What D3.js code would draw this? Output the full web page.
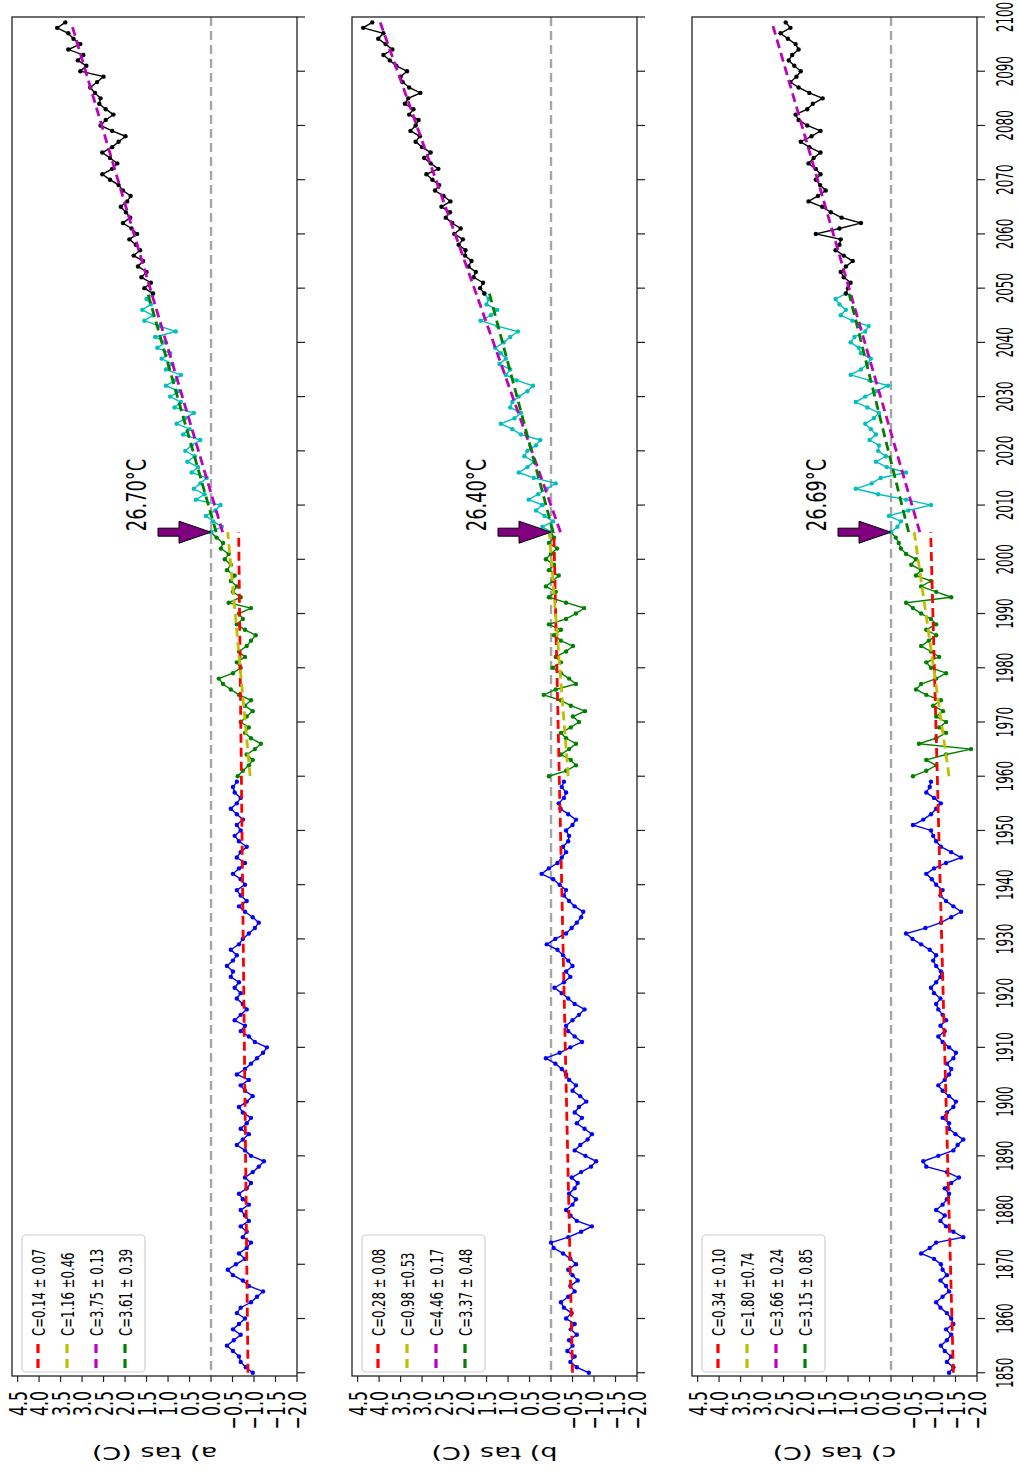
<!DOCTYPE html>
<html>
<head>
<meta charset="utf-8">
<script src="https://cdn.jsdelivr.net/npm/d3@7"></script>
<style>
  body { margin: 0; background: #fff; }
  svg { display: block; }
</style>
</head>
<body>
<svg id="fig" width="1018" height="1471"></svg>
<script>
// ---- Segment start years (each series runs yearly from its start) ----
const HIST_START = 1850;   // blue
const OBS_START = 1960;    // green
const NEAR_START = 2005;   // cyan
const LATE_START = 2049;   // black

// ---- Panel a: tas anomaly (C) ----
const histA = [
  -0.97,-0.81,-0.69,-0.65,-0.51,-0.37,-0.53,-0.69,-0.51,-0.65,
  -0.79,-0.60,-0.69,-0.93,-1.07,-1.21,-0.88,-0.74,-0.51,-0.39,
  -0.58,-0.79,-0.65,-0.83,-0.93,-0.74,-0.83,-0.69,-0.88,-0.79,
  -0.69,-0.88,-0.74,-0.65,-0.83,-0.93,-0.79,-0.97,-1.11,-1.23,
  -0.93,-0.79,-0.60,-0.74,-0.88,-0.69,-0.83,-0.93,-0.74,-0.65,
  -0.83,-0.97,-0.79,-0.69,-0.88,-0.60,-0.79,-0.93,-1.07,-1.21,
  -1.30,-1.02,-0.88,-0.69,-0.79,-0.55,-0.69,-0.83,-0.74,-0.60,
  -0.69,-0.55,-0.65,-0.46,-0.51,-0.37,-0.51,-0.60,-0.46,-0.65,
  -0.74,-0.88,-1.02,-1.11,-0.97,-0.79,-0.65,-0.83,-0.69,-0.60,
  -0.79,-0.69,-0.51,-0.65,-0.79,-0.60,-0.69,-0.83,-0.65,-0.55,
  -0.69,-0.60,-0.74,-0.60,-0.46,-0.60,-0.69,-0.55,-0.51,-0.60
];
const obsA = [
  -0.62,-0.74,-0.88,-0.97,-0.83,-1.02,-1.16,-0.93,-0.79,-0.88,
  -0.69,-0.83,-0.97,-0.79,-0.93,-0.65,-0.46,-0.28,-0.18,-0.51,
  -0.69,-0.60,-0.79,-0.65,-0.83,-0.93,-1.04,-0.79,-0.60,-0.74,
  -0.65,-0.93,-0.41,-0.69,-0.51,-0.60,-0.46,-0.55,-0.37,-0.46,
  -0.32,-0.41,-0.23,-0.28,-0.13,0.00
];
const nearA = [
  0.00,-0.25,-0.05,0.12,-0.10,-0.22,0.35,0.15,0.40,0.25,
  0.10,0.45,0.30,0.55,0.38,0.60,0.45,0.25,0.65,0.50,
  0.80,0.60,0.40,0.85,0.70,0.95,0.75,1.05,0.85,0.70,
  1.05,0.90,1.15,0.95,1.25,1.05,1.30,0.82,1.20,1.55,
  1.35,1.60,1.40,1.50,1.35
];
const lateA = [
  1.35,1.55,1.40,1.62,1.50,1.70,1.58,1.80,1.65,1.75,
  1.90,1.72,1.85,2.05,1.88,1.98,2.10,1.95,1.87,2.05,
  2.15,2.35,2.53,2.30,2.18,2.35,2.53,2.30,2.15,1.99,
  2.30,2.57,2.45,2.27,2.45,2.60,2.57,2.70,2.81,2.65,
  2.50,3.04,2.90,3.10,2.97,3.32,3.04,3.20,3.32,3.58,
  3.39
];

// ---- Panel b ----
const histB = [
  -0.88,-0.60,-0.45,-0.55,-0.38,-0.50,-0.42,-0.60,-0.46,-0.55,
  -0.35,-0.48,-0.30,-0.23,-0.40,-0.55,-0.45,-0.62,-0.50,-0.40,
  -0.58,-0.45,-0.28,-0.06,0.00,-0.40,-0.70,-0.95,-0.60,-0.45,
  -0.35,-0.50,-0.58,-0.42,-0.55,-0.62,-0.48,-0.70,-0.93,-1.05,
  -0.80,-0.55,-0.68,-0.85,-0.95,-0.78,-0.60,-0.72,-0.55,-0.65,
  -0.82,-0.68,-0.50,-0.58,-0.42,-0.35,-0.25,-0.10,0.12,-0.20,
  -0.45,-0.72,-0.55,-0.40,-0.35,-0.50,-0.65,-0.78,-0.55,-0.40,
  -0.25,-0.08,-0.30,-0.45,-0.35,-0.50,-0.40,-0.28,-0.15,0.10,
  -0.10,-0.35,-0.48,-0.60,-0.70,-0.75,-0.55,-0.42,-0.30,-0.35,
  -0.20,-0.05,0.22,0.05,-0.15,-0.25,-0.35,-0.28,-0.40,-0.42,
  -0.35,-0.50,-0.58,-0.40,-0.22,-0.18,-0.30,-0.35,-0.25,-0.30
];
const obsB = [
  0.05,-0.35,-0.58,-0.46,-0.23,-0.42,-0.58,-0.35,-0.23,-0.46,
  -0.65,-0.51,-0.79,-0.46,-0.23,0.17,-0.11,-0.58,-0.42,-0.23,
  -0.04,-0.23,-0.11,-0.35,-0.51,-0.23,-0.07,-0.23,0.05,-0.35,
  -0.58,-0.77,-0.35,0.05,-0.11,0.12,-0.04,-0.18,0.05,-0.07,
  0.12,0.00,-0.14,0.05,-0.07,0.00
];
const nearB = [
  0.00,0.20,-0.05,0.15,0.35,0.20,0.52,0.30,0.10,-0.11,
  0.40,0.75,0.55,0.40,0.62,0.55,0.35,0.25,0.70,0.90,
  1.17,0.85,0.70,0.95,0.90,0.75,0.55,0.42,0.80,1.05,
  0.95,1.20,1.05,1.17,1.30,1.10,0.95,0.77,1.25,1.64,
  1.40,1.25,1.50,1.45,1.55
];
const lateB = [
  1.55,1.65,1.58,1.80,1.75,1.92,1.85,2.00,1.99,2.15,
  2.05,2.25,2.10,2.30,2.45,2.35,2.55,2.34,2.50,2.70,
  2.60,2.76,2.90,2.62,2.80,2.95,2.80,3.00,3.15,3.05,
  3.27,3.15,3.08,3.30,3.20,3.40,3.32,3.04,3.30,3.45,
  3.50,3.35,3.60,3.75,3.90,3.69,3.85,4.02,3.90,4.37,
  4.16
];

// ---- Panel c ----
const histC = [
  -1.35,-1.45,-1.30,-1.40,-1.25,-1.16,-1.30,-1.40,-1.28,-1.45,
  -1.40,-1.30,-1.15,-1.05,-1.20,-1.35,-1.28,-1.15,-1.30,-1.20,
  -1.16,-1.00,-0.70,-0.90,-1.05,-1.68,-1.45,-1.28,-1.15,-1.25,
  -1.05,-1.20,-1.30,-1.35,-1.25,-1.40,-1.58,-1.30,-0.82,-0.75,
  -1.10,-1.45,-1.55,-1.68,-1.50,-1.35,-1.35,-1.20,-1.30,-1.45,
  -1.51,-1.35,-1.20,-1.10,-1.25,-1.35,-1.40,-1.30,-1.45,-1.51,
  -1.35,-1.20,-1.10,-1.25,-1.15,-1.28,-1.20,-1.10,-1.05,-1.15,
  -1.00,-0.93,-1.05,-1.15,-1.16,-1.05,-0.98,-1.05,-0.90,-0.70,
  -0.50,-0.35,-0.80,-1.16,-1.40,-1.63,-1.45,-1.28,-1.15,-1.20,
  -1.05,-0.95,-0.82,-1.00,-1.28,-1.63,-1.40,-1.16,-1.05,-0.98,
  -0.93,-0.51,-0.75,-0.93,-1.05,-1.16,-1.00,-0.82,-0.90,-0.93
];
const obsC = [
  -0.51,-0.82,-1.05,-0.82,-1.28,-1.86,-0.65,-1.05,-1.28,-1.12,
  -1.28,-1.05,-1.21,-0.98,-1.16,-0.82,-0.58,-0.70,-1.05,-1.28,
  -0.93,-0.82,-1.12,-0.93,-0.70,-0.88,-1.05,-0.82,-1.05,-0.93,
  -0.70,-0.51,-0.35,-1.40,-1.05,-0.70,-0.93,-0.58,-0.70,-0.47,
  -0.58,-0.35,-0.23,-0.18,-0.11,0.00
];
const nearC = [
  0.00,-0.15,-0.23,0.05,-0.40,-0.93,-0.35,0.30,0.82,0.45,
  0.24,-0.35,0.10,0.35,0.12,0.30,0.28,0.50,0.35,0.47,
  0.60,0.40,0.28,0.55,0.82,0.60,0.35,0.07,0.50,0.94,
  0.70,0.55,0.47,0.70,0.75,0.94,0.85,0.60,0.52,0.90,
  1.17,1.05,1.20,1.29,1.05
];
const lateC = [
  1.05,1.00,0.94,1.10,1.17,1.05,0.89,1.10,1.29,1.20,
  1.17,1.75,1.20,0.70,1.15,1.40,1.60,1.92,1.70,1.52,
  1.65,1.75,1.64,1.75,1.92,1.80,1.64,1.90,2.10,1.85,
  1.64,1.95,2.15,2.22,1.95,1.82,1.59,1.90,2.15,2.34,
  2.20,2.10,2.25,2.38,2.30,2.15,2.22,2.40,2.57,2.34,
  2.45
];

// ---- Linear trends: periods, slopes (C per century), errors, starting values ----
const trendStart = [1850, 1960, 2005, 2005];
const trendEnd   = [2005, 2005, 2099, 2049];
const trendColors = ["#ff0000", "#bfbf00", "#bf00bf", "#008000"];
const trendC_A = [0.14, 1.16, 3.75, 3.61];
const trendE_A = [0.07, 0.46, 0.13, 0.39];
const trendV0_A = [-0.86, -0.91, -0.27, -0.12];
const trendC_B = [0.28, 0.98, 4.46, 3.37];
const trendE_B = [0.08, 0.53, 0.17, 0.48];
const trendV0_B = [-0.50, -0.40, -0.22, -0.05];
const trendC_C = [0.34, 1.80, 3.66, 3.15];
const trendE_C = [0.10, 0.74, 0.24, 0.85];
const trendV0_C = [-1.45, -1.35, -0.67, -0.41];

// ---- Labels ----
const panelLabels = ["a) tas (C)", "b) tas (C)", "c) tas (C)"];
const refTemps = ["26.70°C", "26.40°C", "26.69°C"];
const valueTicks = d3.range(-4, 10).map(k => k * 0.5);   // -2.0 … 4.5
const yearTicks = d3.range(1850, 2101, 10);

const panels = [
  { hist: histA, obs: obsA, near: nearA, late: lateA, C: trendC_A, E: trendE_A, V0: trendV0_A },
  { hist: histB, obs: obsB, near: nearB, late: lateB, C: trendC_B, E: trendE_B, V0: trendV0_B },
  { hist: histC, obs: obsC, near: nearC, late: lateC, C: trendC_C, E: trendE_C, V0: trendV0_C }
];

// ---- Layout (time runs bottom → top, values decrease left → right) ----
const FONT = "'DejaVu Sans', sans-serif";
const TOP = 17, BOTTOM = 1376;
const panelLeft = [12, 352, 692];
const panelW = 285;
const yearScale = d3.scaleLinear().domain([1849.4, 2100]).range([BOTTOM, TOP]);

const svg = d3.select("#fig");
svg.append("rect").attr("width", 1018).attr("height", 1471).attr("fill", "#fff");

const fmt = d3.format(".1f");

panels.forEach((p, i) => {
  const L = panelLeft[i];
  const vScale = d3.scaleLinear().domain([4.63, -2.0]).range([L, L + panelW]);
  const g = svg.append("g");

  const line = d3.line().x(d => vScale(d.v)).y(d => yearScale(d.year));

  // zero reference line
  g.append("line")
    .attr("x1", vScale(0)).attr("x2", vScale(0))
    .attr("y1", TOP).attr("y2", BOTTOM)
    .attr("stroke", "#a6a6a6").attr("stroke-width", 2.4)
    .attr("stroke-dasharray", "9,5");

  // data series
  const segs = [
    { vals: p.hist, start: HIST_START, color: "#0000ff" },
    { vals: p.obs,  start: OBS_START,  color: "#008000" },
    { vals: p.near, start: NEAR_START, color: "#00bfbf" },
    { vals: p.late, start: LATE_START, color: "#000000" }
  ];
  segs.forEach(s => {
    const pts = s.vals.map((v, k) => ({ year: s.start + k, v }));
    g.append("path").datum(pts)
      .attr("d", line).attr("fill", "none")
      .attr("stroke", s.color).attr("stroke-width", 1.4);
    g.append("g").selectAll("circle").data(pts).join("circle")
      .attr("cx", d => vScale(d.v)).attr("cy", d => yearScale(d.year))
      .attr("r", 2.2).attr("fill", s.color);
  });

  // linear trends
  p.C.forEach((c, k) => {
    const y0 = trendStart[k], y1 = trendEnd[k];
    const pts = [
      { year: y0, v: p.V0[k] },
      { year: y1, v: p.V0[k] + c * (y1 - y0) / 100 }
    ];
    g.append("path").datum(pts)
      .attr("d", line).attr("fill", "none")
      .attr("stroke", trendColors[k]).attr("stroke-width", 2.8)
      .attr("stroke-dasharray", "9,5");
  });

  // reference-year arrow and temperature
  const tx = vScale(0), ty = yearScale(NEAR_START);
  const arrow = [[0,0],[-32,-11],[-32,-4],[-53,-4],[-53,4],[-32,4],[-32,11]]
    .map(([dx, dy]) => [tx + dx, ty + dy]);
  g.append("polygon")
    .attr("points", arrow.map(d => d.join(",")).join(" "))
    .attr("fill", "#800080").attr("stroke", "#000").attr("stroke-width", 1);
  g.append("text")
    .attr("transform", `translate(${tx - 65},${ty - 1}) rotate(-90) scale(0.66,1)`)
    .attr("font-family", FONT).attr("font-size", 27).attr("fill", "#000")
    .text(refTemps[i]);

  // frame
  g.append("rect")
    .attr("x", L).attr("y", TOP).attr("width", panelW).attr("height", BOTTOM - TOP)
    .attr("fill", "none").attr("stroke", "#222").attr("stroke-width", 1.3);

  // value axis ticks and labels
  valueTicks.forEach(t => {
    const x = vScale(t);
    g.append("line").attr("x1", x).attr("x2", x).attr("y1", BOTTOM).attr("y2", BOTTOM + 6)
      .attr("stroke", "#222").attr("stroke-width", 1.2);
    g.append("text")
      .attr("transform", `translate(${x + 9},${BOTTOM + 15}) rotate(-90) scale(0.63,1)`)
      .attr("text-anchor", "end")
      .attr("font-family", FONT).attr("font-size", 25).attr("fill", "#000")
      .text(fmt(t));
  });

  // year ticks
  yearTicks.forEach(yr => {
    const y = yearScale(yr);
    g.append("line").attr("x1", L + panelW).attr("x2", L + panelW + 8).attr("y1", y).attr("y2", y)
      .attr("stroke", "#222").attr("stroke-width", 1.2);
    if (i === panels.length - 1) {
      g.append("text")
        .attr("transform", `translate(${L + panelW + 36},${y}) rotate(-90) scale(0.52,1)`)
        .attr("text-anchor", "middle")
        .attr("font-family", FONT).attr("font-size", 23).attr("fill", "#000")
        .text(yr);
    }
  });

  // axis label
  g.append("text")
    .attr("transform", `translate(${L + panelW / 2},1447) rotate(180) scale(1,0.62)`)
    .attr("text-anchor", "middle")
    .attr("font-family", FONT).attr("font-size", 27).attr("fill", "#000")
    .text(panelLabels[i]);

  // legend
  const lg = g.append("g");
  lg.append("rect")
    .attr("x", L + 10).attr("y", 1235).attr("width", 123).attr("height", 137)
    .attr("rx", 4).attr("fill", "#fff").attr("fill-opacity", 0.8)
    .attr("stroke", "#d0d0d0").attr("stroke-width", 1.2);
  p.C.forEach((c, k) => {
    const hx = L + 26 + k * 29;
    lg.append("line").attr("x1", hx).attr("x2", hx).attr("y1", 1368).attr("y2", 1344)
      .attr("stroke", trendColors[k]).attr("stroke-width", 3.2)
      .attr("stroke-dasharray", "9,6");
    const label = k === 1
      ? `C=${c.toFixed(2)} ±${p.E[k].toFixed(2)}`
      : `C=${c.toFixed(2)} ± ${p.E[k].toFixed(2)}`;
    lg.append("text")
      .attr("transform", `translate(${hx + 6.5},1336) rotate(-90) scale(0.65,1)`)
      .attr("font-family", FONT).attr("font-size", 18).attr("fill", "#000")
      .text(label);
  });
});
</script>
</body>
</html>
